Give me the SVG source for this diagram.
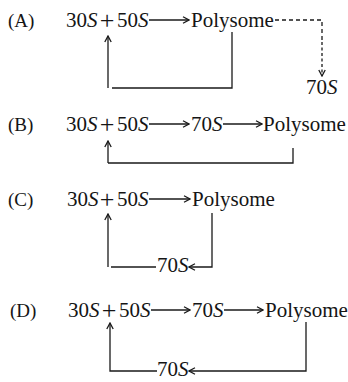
<svg xmlns="http://www.w3.org/2000/svg" width="348" height="382" viewBox="0 0 348 382">
  <style>
    text { font-family: "Liberation Serif", "Times New Roman", serif; fill: #151515; }
    .t { font-size: 21px; }
    .plus { font-size: 26px; }
    .lbl { font-size: 19px; }
    .i { font-style: italic; }
    .ln { stroke: #1a1a1a; stroke-width: 1.3; fill: none; }
    .dash { stroke-dasharray: 4 3; }
    .arr { marker-end: url(#ah); }
  </style>
  <defs>
    <marker id="ah" viewBox="0 0 8 8" refX="7" refY="4" markerWidth="8" markerHeight="8" markerUnits="userSpaceOnUse" orient="auto">
      <path d="M1,0.8 L7,4 L1,7.2" fill="none" stroke="#1a1a1a" stroke-width="1.3"/>
    </marker>
  </defs>
  <rect width="348" height="382" fill="#ffffff"/>

  <!-- Option A -->
  <g id="optA">
    <text class="lbl" x="8" y="27">(A)</text>
    <g id="A-sub">
      <text class="t" x="66" y="27">30<tspan class="i">S</tspan></text>
      <text class="plus" x="107" y="29" text-anchor="middle">+</text>
      <text class="t" x="117" y="27">50<tspan class="i">S</tspan></text>
    </g>
    <g id="A-poly"><text class="t" x="191" y="27">Polysome</text></g>
    <g id="A-70s"><text class="t" x="306" y="94">70<tspan class="i">S</tspan></text></g>
  </g>

  <!-- Option B -->
  <g id="optB">
    <text class="lbl" x="8" y="131">(B)</text>
    <g id="B-sub">
      <text class="t" x="66" y="131">30<tspan class="i">S</tspan></text>
      <text class="plus" x="107" y="133" text-anchor="middle">+</text>
      <text class="t" x="117" y="131">50<tspan class="i">S</tspan></text>
    </g>
    <g id="B-70s"><text class="t" x="191" y="131">70<tspan class="i">S</tspan></text></g>
    <g id="B-poly"><text class="t" x="263" y="131">Polysome</text></g>
  </g>

  <!-- Option C -->
  <g id="optC">
    <text class="lbl" x="8" y="206">(C)</text>
    <g id="C-sub">
      <text class="t" x="67" y="206">30<tspan class="i">S</tspan></text>
      <text class="plus" x="107" y="208" text-anchor="middle">+</text>
      <text class="t" x="117" y="206">50<tspan class="i">S</tspan></text>
    </g>
    <g id="C-poly"><text class="t" x="192" y="206">Polysome</text></g>
    <g id="C-70s"><text class="t" x="157" y="272">70<tspan class="i">S</tspan></text></g>
  </g>

  <!-- Option D -->
  <g id="optD">
    <text class="lbl" x="10" y="317">(D)</text>
    <g id="D-sub">
      <text class="t" x="68" y="317">30<tspan class="i">S</tspan></text>
      <text class="plus" x="109" y="319" text-anchor="middle">+</text>
      <text class="t" x="119" y="317">50<tspan class="i">S</tspan></text>
    </g>
    <g id="D-70s"><text class="t" x="192" y="317">70<tspan class="i">S</tspan></text></g>
    <g id="D-poly"><text class="t" x="265" y="317">Polysome</text></g>
    <g id="D-70s-back"><text class="t" x="157" y="376">70<tspan class="i">S</tspan></text></g>
  </g>

  <!-- Connectors -->
  <g id="connectors">
    <!-- A -->
    <line class="ln arr" x1="149" y1="20" x2="189" y2="20"/>
    <polyline class="ln dash" points="275,20 322,20 322,40"/>
    <line class="ln arr" x1="322" y1="42" x2="322" y2="76" stroke-dasharray="3 2.5"/>
    <polyline class="ln" points="232,32 232,88 112,88"/>
    <line class="ln arr" x1="108" y1="88" x2="108" y2="36"/>
    <!-- B -->
    <line class="ln arr" x1="149" y1="124" x2="189" y2="124"/>
    <line class="ln arr" x1="223" y1="124" x2="262" y2="124"/>
    <polyline class="ln" points="293,148 293,163 108,163"/>
    <line class="ln arr" x1="108" y1="163" x2="108" y2="141"/>
    <!-- C -->
    <line class="ln arr" x1="149" y1="199" x2="190" y2="199"/>
    <polyline class="ln arr" points="212,213 212,267 189,267"/>
    <line class="ln" x1="156" y1="267" x2="111" y2="267"/>
    <line class="ln arr" x1="108" y1="267" x2="108" y2="214"/>
    <!-- D -->
    <line class="ln arr" x1="151" y1="310" x2="190" y2="310"/>
    <line class="ln arr" x1="224" y1="310" x2="263" y2="310"/>
    <polyline class="ln arr" points="306,322 306,371 189,371"/>
    <polyline class="ln arr" points="157,371 110,371 110,323"/>
  </g>
</svg>
